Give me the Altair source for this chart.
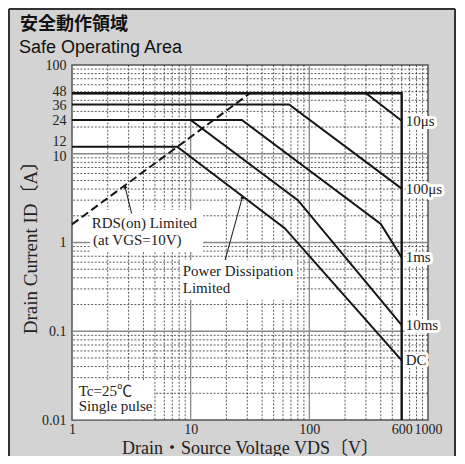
import altair as alt
import pandas as pd

# ---------------- data (VDS [V], ID [A]) ----------------
curve_names = ["10μs", "100μs", "1ms", "10ms", "DC"]
vds_10us = [1, 300, 600]
id_10us = [48, 48, 23.5]
vds_100us = [1, 67.5, 600]
id_100us = [36, 36, 4.05]
vds_1ms = [1, 27, 400, 600]
id_1ms = [24, 24, 1.62, 0.68]
vds_10ms = [1, 10, 80, 600]
id_10ms = [24, 24, 3.0, 0.117]
vds_dc = [1, 7.7, 62, 600]
id_dc = [12, 12, 1.45, 0.047]

# max-rating boundary (ID pulse 48 A, VDSS 600 V)
vds_bound = [1, 600, 600]
id_bound = [48, 48, 0.01]

# RDS(on) limit (dashed)
vds_rds = [1, 31.6]
id_rds = [1.6, 48]

x_ticks = [1, 10, 100, 600, 1000]
y_ticks = [0.01, 0.1, 1, 10, 12, 24, 36, 48, 100]

# annotations (in data units)
note_text = ["RDS(on)  Limited", "(at VGS=10V)", "Power Dissipation", "Limited",
             "Tc=25℃", "Single pulse"]
note_vds = [1.466, 1.503, 8.57, 8.57, 1.139, 1.139]
note_id = [1.457, 0.937, 0.419, 0.27, 0.0186, 0.0126]

box_vds1 = [1.42, 8.13, 1.02]
box_vds2 = [12.7, 78.7, 4.9]
box_id1 = [0.78, 0.225, 0.0102]
box_id2 = [2.32, 0.635, 0.028]

arrow_vds_tail = [3.18, 19.5]
arrow_id_tail = [2.12, 0.635]
arrow_vds_head = [2.8, 27.3]
arrow_id_head = [4.25, 3.25]
arrow_angle = [344, 16]

# ---------------- tables ----------------
series = [(curve_names[0], vds_10us, id_10us), (curve_names[1], vds_100us, id_100us),
          (curve_names[2], vds_1ms, id_1ms), (curve_names[3], vds_10ms, id_10ms),
          (curve_names[4], vds_dc, id_dc)]
rows = []
for name, xs, ys in series:
    for i, (a, b) in enumerate(zip(xs, ys)):
        rows.append({"name": name, "vds": a, "id": b, "order": i})
curves = pd.DataFrame(rows)
ends = pd.DataFrame([{"name": n, "vds": xs[-1], "id": ys[-1]} for n, xs, ys in series])

bound = pd.DataFrame({"vds": vds_bound, "id": id_bound, "order": list(range(len(vds_bound)))})
rds = pd.DataFrame({"vds": vds_rds, "id": id_rds})
notes = pd.DataFrame({"t": note_text, "vds": note_vds, "id": note_id})
boxes = pd.DataFrame({"x1": box_vds1, "x2": box_vds2, "y1": box_id1, "y2": box_id2})
arrows = pd.DataFrame({"xt": arrow_vds_tail, "yt": arrow_id_tail,
                       "xh": arrow_vds_head, "yh": arrow_id_head, "ang": arrow_angle})

decades_x = [1, 10, 100]
decades_y = [0.01, 0.1, 1, 10]
grid_v_minor = pd.DataFrame({"v": [d * k for d in decades_x for k in range(2, 10)]})
grid_h_minor = pd.DataFrame({"v": [d * k for d in decades_y for k in range(2, 10)]})
grid_v_major = pd.DataFrame({"v": [10, 100]})
grid_h_major = pd.DataFrame({"v": [0.1, 1, 10]})

# ---------------- style ----------------
SERIF = "Liberation Serif, Noto Sans CJK JP"
INK = "#151515"

xscale = alt.Scale(type="log", domain=[1, 1000], nice=False)
yscale = alt.Scale(type="log", domain=[0.01, 100], nice=False)

xaxis = alt.Axis(values=x_ticks, labelExpr="'' + datum.value",
                 title="Drain・Source Voltage  VDS〔V〕",
                 grid=False, ticks=False, domain=False, labelFlush=False, labelOverlap=False,
                 labelFont=SERIF, labelFontSize=14, labelColor="#222", labelPadding=2,
                 titleFont=SERIF, titleFontSize=18, titleFontWeight="normal",
                 titleColor="#222", titlePadding=3)
yaxis = alt.Axis(values=y_ticks, labelExpr="'' + datum.value",
                 title="Drain Current  ID〔A〕",
                 grid=False, ticks=False, domain=False, labelFlush=False, labelOverlap=False,
                 labelFont=SERIF, labelFontSize=14, labelColor="#222", labelPadding=6,
                 labelOffset={"condition": [{"test": "datum.value == 12", "value": -5},
                                            {"test": "datum.value == 10", "value": 2.5},
                                            {"test": "datum.value == 48", "value": -1.5},
                                            {"test": "datum.value == 36", "value": 1.5}],
                              "value": 0},
                 titleFont=SERIF, titleFontSize=19, titleFontWeight="normal",
                 titleColor="#222", titlePadding=1)


def X(f):
    return alt.X(f, type="quantitative", scale=xscale, axis=xaxis)


def Y(f):
    return alt.Y(f, type="quantitative", scale=yscale, axis=yaxis)


minor_style = dict(color="#333", strokeWidth=0.8, strokeDash=[2, 1.6])
major_style = dict(color="#8a8a8a", strokeWidth=1.3)

gv_minor = alt.Chart(grid_v_minor).mark_rule(**minor_style).encode(x=X("v"))
gh_minor = alt.Chart(grid_h_minor).mark_rule(**minor_style).encode(y=Y("v"))
gv_major = alt.Chart(grid_v_major).mark_rule(**major_style).encode(x=X("v"))
gh_major = alt.Chart(grid_h_major).mark_rule(**major_style).encode(y=Y("v"))

box_layer = alt.Chart(boxes).mark_rect(fill="white").encode(
    x=X("x1"), x2=alt.X2("x2"), y=Y("y1"), y2=alt.Y2("y2"))

arrow_lines = alt.Chart(arrows).mark_rule(color=INK, strokeWidth=1).encode(
    x=X("xt"), x2=alt.X2("xh"), y=Y("yt"), y2=alt.Y2("yh"))
arrow_heads = alt.Chart(arrows).mark_point(shape="triangle-up", filled=True, color=INK,
                                           size=16, opacity=1).encode(
    x=X("xh"), y=Y("yh"), angle=alt.Angle("ang:Q", scale=None))

curve_lines = alt.Chart(curves).mark_line(color=INK, strokeWidth=2).encode(
    x=X("vds"), y=Y("id"), detail="name:N", order="order:Q")
bound_line = alt.Chart(bound).mark_line(color=INK, strokeWidth=2.4).encode(
    x=X("vds"), y=Y("id"), order="order:Q")
rds_line = alt.Chart(rds).mark_line(color=INK, strokeWidth=2, strokeDash=[8, 4]).encode(
    x=X("vds"), y=Y("id"))

end_halo = alt.Chart(ends).mark_text(align="left", baseline="middle", dx=4, font=SERIF,
                                     fontSize=15, fill="white", stroke="white",
                                     strokeWidth=6, strokeJoin="round").encode(
    x=X("vds"), y=Y("id"), text="name:N")
end_text = alt.Chart(ends).mark_text(align="left", baseline="middle", dx=4, font=SERIF,
                                     fontSize=15, color="#222").encode(
    x=X("vds"), y=Y("id"), text="name:N")

note_layer = alt.Chart(notes).mark_text(align="left", baseline="alphabetic", font=SERIF,
                                        fontSize=15, color="#222").encode(
    x=X("vds"), y=Y("id"), text="t:N")

one = pd.DataFrame({"t": ["安全動作領域"]})
two = pd.DataFrame({"t": ["Safe Operating Area"]})
title_jp = alt.Chart(one).mark_text(align="left", baseline="alphabetic",
                                    font="Noto Sans CJK JP", fontWeight="bold",
                                    fontSize=18, color="#111").encode(
    x=alt.value(-52), y=alt.value(-35), text="t:N")
title_en = alt.Chart(two).mark_text(align="left", baseline="alphabetic",
                                    font="Liberation Sans", fontSize=18,
                                    color="#111").encode(
    x=alt.value(-53), y=alt.value(-12.5), text="t:N")

frame_l = alt.Chart(one).mark_rule(color="#333", strokeWidth=2).encode(
    x=alt.value(-63), y=alt.value(-56), y2=alt.value(391))
frame_t = alt.Chart(one).mark_rule(color="#333", strokeWidth=2).encode(
    x=alt.value(-63), x2=alt.value(383), y=alt.value(-56))
frame_r = alt.Chart(one).mark_rule(color="#333", strokeWidth=2).encode(
    x=alt.value(383), y=alt.value(-56), y2=alt.value(391))

chart = alt.layer(
    gv_minor, gh_minor, gv_major, gh_major, box_layer,
    arrow_lines, arrow_heads, curve_lines, rds_line, bound_line,
    end_halo, end_text, note_layer, title_jp, title_en, frame_l, frame_t, frame_r,
).properties(
    width=356, height=355,
    autosize=alt.AutoSizeParams(type="none"),
    padding={"left": 64, "top": 57, "right": 28, "bottom": 36},
    background="#d3d3d3",
).configure_view(fill="white", stroke="#555", strokeWidth=1.5)

chart.save("out.html", embed_options={"renderer": "svg", "actions": False})
